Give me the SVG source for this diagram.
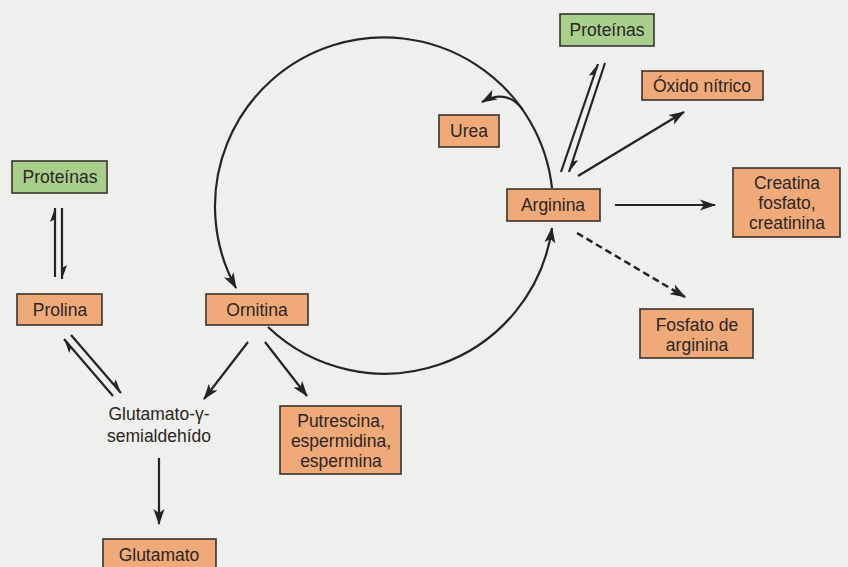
<svg xmlns="http://www.w3.org/2000/svg" width="848" height="567" viewBox="0 0 848 567">
  <style>
    .bg { fill: #efefed; }
    .box { stroke: #3a332c; stroke-width: 1.6; }
    .orange { fill: #f0a978; }
    .green { fill: #a9cf8c; }
    .lbl { font-family: "Liberation Sans", Arial, sans-serif; font-size: 17.5px; fill: #2a2622; text-anchor: middle; }
    .edge { fill: none; stroke: #262422; stroke-width: 2.2; }
    .arrow { marker-end: url(#head); }
    .half { marker-end: url(#harpoon); }
    .dash { stroke-dasharray: 7 4; stroke-width: 2.5; }
  </style>
  <defs>
    <marker id="head" markerUnits="userSpaceOnUse" viewBox="0 0 16 12" markerWidth="16" markerHeight="12" refX="15" refY="6" orient="auto">
      <path d="M0,0.5 L16,6 L0,11.5 L4,6 z" fill="#262422"/>
    </marker>
    <marker id="harpoon" markerUnits="userSpaceOnUse" viewBox="0 0 14 10" markerWidth="14" markerHeight="10" refX="14" refY="5" orient="auto">
      <path d="M14,5 L0,0 L3,5 z" fill="#262422"/>
    </marker>
  </defs>

  <rect class="bg" x="0" y="0" width="848" height="567"/>

  <g id="connectors">
    <!-- urea cycle: arginina -> ornitina over the top, ornitina -> arginina underneath -->
    <path class="edge arrow" d="M552,188 A169,169 0 1 0 236,288"/>
    <path class="edge arrow" d="M268,327 A169,169 0 0 0 552,228"/>
    <!-- urea released from the cycle -->
    <path class="edge arrow" d="M523,110 Q507,88 482,102"/>
    <!-- proteinas <-> arginina -->
    <path class="edge half" d="M561,172 L598,64"/>
    <path class="edge half" d="M605,63 L569,172"/>
    <!-- arginina products -->
    <path class="edge arrow" d="M578,176 L684,112"/>
    <path class="edge arrow" d="M615,205 L715,205"/>
    <path class="edge arrow dash" d="M577,233 L685,297"/>
    <!-- proteinas <-> prolina -->
    <path class="edge half" d="M55,277 L55,208"/>
    <path class="edge half" d="M62,208 L62,279"/>
    <!-- prolina <-> glutamato-gamma-semialdehido -->
    <path class="edge half" d="M113,396 L64,339"/>
    <path class="edge half" d="M71,335 L121,393"/>
    <!-- ornitina branches -->
    <path class="edge arrow" d="M248,342 L204,399"/>
    <path class="edge arrow" d="M265,342 L307,396"/>
    <!-- semialdehido -> glutamato -->
    <path class="edge arrow" d="M159,458 L159,524"/>
  </g>

  <g id="proteinas-left">
    <rect class="box green" x="12" y="161" width="95" height="32"/>
    <text class="lbl" x="60" y="183">Proteínas</text>
  </g>
  <g id="prolina">
    <rect class="box orange" x="17" y="294" width="85" height="31"/>
    <text class="lbl" x="60" y="316">Prolina</text>
  </g>
  <g id="ornitina">
    <rect class="box orange" x="206" y="294" width="102" height="31"/>
    <text class="lbl" x="257" y="316">Ornitina</text>
  </g>
  <g id="semialdehido">
    <text class="lbl" x="159" y="420">Glutamato-γ-</text>
    <text class="lbl" x="159" y="442">semialdehído</text>
  </g>
  <g id="poliaminas">
    <rect class="box orange" x="280" y="406" width="121" height="68"/>
    <text class="lbl" x="341" y="427">Putrescina,</text>
    <text class="lbl" x="341" y="447">espermidina,</text>
    <text class="lbl" x="341" y="467">espermina</text>
  </g>
  <g id="glutamato">
    <rect class="box orange" x="103" y="539" width="113" height="40"/>
    <text class="lbl" x="159" y="561">Glutamato</text>
  </g>
  <g id="proteinas-top">
    <rect class="box green" x="560" y="14" width="94" height="32"/>
    <text class="lbl" x="607" y="36">Proteínas</text>
  </g>
  <g id="oxido-nitrico">
    <rect class="box orange" x="642" y="71" width="121" height="29"/>
    <text class="lbl" x="702" y="92">Óxido nítrico</text>
  </g>
  <g id="urea">
    <rect class="box orange" x="439" y="115" width="60" height="32"/>
    <text class="lbl" x="469" y="137">Urea</text>
  </g>
  <g id="arginina">
    <rect class="box orange" x="507" y="189" width="93" height="32"/>
    <text class="lbl" x="553" y="211">Arginina</text>
  </g>
  <g id="creatina">
    <rect class="box orange" x="733" y="168" width="107" height="69"/>
    <text class="lbl" x="787" y="189">Creatina</text>
    <text class="lbl" x="787" y="209">fosfato,</text>
    <text class="lbl" x="787" y="229">creatinina</text>
  </g>
  <g id="fosfato-arginina">
    <rect class="box orange" x="640" y="309" width="113" height="49"/>
    <text class="lbl" x="697" y="331">Fosfato de</text>
    <text class="lbl" x="697" y="351">arginina</text>
  </g>
</svg>
